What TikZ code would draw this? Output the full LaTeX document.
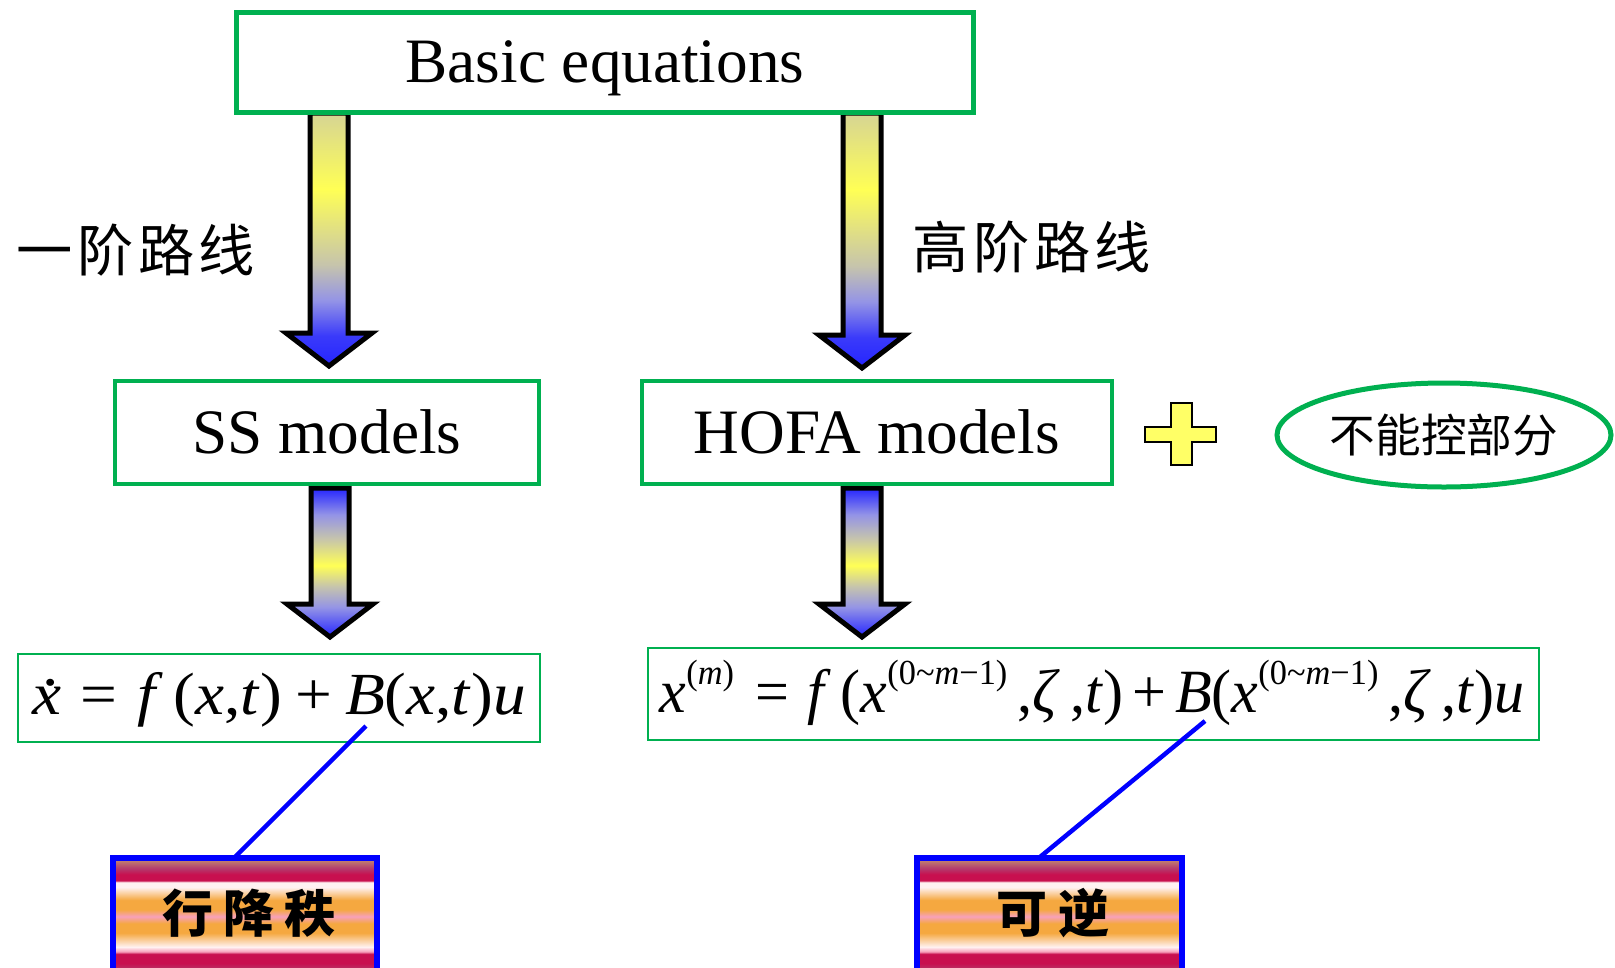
\documentclass[tikz,border=0pt]{standalone}
\usepackage{fontspec}
\usepackage{graphicx}
\setmainfont{Liberation Serif}
\newfontfamily\cjk{Noto Sans CJK SC}
\newfontfamily\cjkwide[LetterSpace=8]{Noto Sans CJK SC}
\newfontfamily\cjkbox[LetterSpace=20]{Noto Sans CJK SC}
\usetikzlibrary{shapes.geometric}
\newdimen\pxu \pxu=0.02cm
\definecolor{bgreen}{HTML}{00B050}
\definecolor{ablue}{HTML}{2424FF}
\definecolor{alav}{HTML}{9494E6}
\definecolor{agray}{HTML}{C6C4AC}
\definecolor{ayel}{HTML}{FFFF55}
\definecolor{atop}{HTML}{D6D494}
\definecolor{pyel}{HTML}{FFFF66}
\definecolor{sbrown}{HTML}{C08070}
\definecolor{smauve}{HTML}{B43A6C}
\definecolor{scrim}{HTML}{C8104F}
\definecolor{swhite}{HTML}{FFF2F2}
\definecolor{sorange}{HTML}{F5A840}
\definecolor{spink}{HTML}{F7A0BA}
\pgfdeclareverticalshading{toparrow}{100bp}{color(0bp)=(ablue); color(25bp)=(ablue); color(31bp)=(ablue!80!alav); color(38bp)=(alav); color(45bp)=(agray); color(60bp)=(ayel); color(75bp)=(atop); color(100bp)=(atop)}
\pgfdeclareverticalshading{lowarrow}{100bp}{color(0bp)=(ablue); color(25bp)=(ablue); color(35bp)=(alav); color(42bp)=(agray); color(49bp)=(ayel); color(58bp)=(agray); color(66bp)=(alav); color(75bp)=(ablue); color(100bp)=(ablue)}
\pgfdeclareverticalshading{stripes}{100bp}{color(0bp)=(sbrown); color(25bp)=(sbrown); color(27bp)=(smauve); color(30bp)=(scrim); color(34bp)=(scrim); color(35bp)=(spink); color(37bp)=(swhite); color(43bp)=(sorange); color(47bp)=(sorange); color(50bp)=(spink); color(53bp)=(sorange); color(57bp)=(sorange); color(62.5bp)=(swhite); color(64.6bp)=(swhite); color(65.4bp)=(scrim); color(68bp)=(scrim); color(70.5bp)=(smauve); color(74bp)=(sbrown); color(100bp)=(sbrown)}
\newcommand\fatarrow[7]{%
  \shadedraw[shading=#7, draw=black, line width=5\pxu, miter limit=10]
    ({#1-#5},#2) -- ({#1+#5},#2) -- ({#1+#5},#3) -- ({#1+#6},#3) -- (#1,#4)
    -- ({#1-#6},#3) -- ({#1-#5},#3) -- cycle;}
\newcommand\I[1]{\textit{#1}}
\newcommand\xd{\ooalign{\I{x}\cr\hidewidth\kern0.12em\raisebox{0.48em}{.}\hidewidth\cr}}
\newcommand\supx[1]{\raisebox{0.45em}{\fontsize{20pt}{20pt}\selectfont #1}}
\begin{document}
\begin{tikzpicture}[x=0.02cm,y=-0.02cm,
  gbox/.style={draw=bgreen, fill=white, line width=5\pxu, inner sep=0pt},
  gtext/.style={inner sep=0pt, anchor=base, font=\fontsize{36pt}{40pt}\selectfont},
  eqbox/.style={draw=bgreen, fill=white, line width=2\pxu, inner sep=0pt},
  rankbox/.style={shading=stripes, draw=blue, line width=6\pxu, inner sep=0pt},
  blueline/.style={draw=blue, line width=4.5\pxu},
  route/.style={font=\cjkwide\fontsize{32pt}{36pt}\selectfont, inner sep=0pt},
  boxlabel/.style={font=\cjkbox\bfseries\fontsize{29pt}{32pt}\selectfont, inner sep=0pt}]
\clip (0,0) rectangle (1615,967);
\fill[white] (0,0) rectangle (1615,967);
% arrows
\fatarrow{329}{113}{333}{366}{19}{43}{toparrow}
\fatarrow{862}{113}{335}{368}{19}{43}{toparrow}
\fatarrow{330}{488}{604}{637}{19}{43}{lowarrow}
\fatarrow{862}{488}{604}{637}{19}{43}{lowarrow}
% boxes
\node[gbox, minimum width=737\pxu, minimum height=100\pxu] (basic) at (605,62.5) {};
\node[gtext] (basict) at (605,82) {Basic equations};
\node[gbox, line width=4.5\pxu, minimum width=424\pxu, minimum height=103\pxu] (ss) at (327,432.5) {};
\node[gtext] (sst) at (327,453) {SS models};
\node[gbox, line width=4.5\pxu, minimum width=470\pxu, minimum height=103\pxu] (hofa) at (877,432.5) {};
\node[gtext] (hofat) at (877,453) {HOFA models};
% labels on arrows
\node[route] (first) at (136,250) {一阶路线};
\node[route] (high) at (1032,247) {高阶路线};
% plus sign
\filldraw[fill=pyel, draw=black, line width=2\pxu]
  (1171,403) -- (1192,403) -- (1192,427) -- (1216,427) -- (1216,442) -- (1192,442)
  -- (1192,465) -- (1171,465) -- (1171,442) -- (1145,442) -- (1145,427) -- (1171,427) -- cycle;
\node[ellipse, draw=bgreen, line width=5\pxu, inner sep=0pt, minimum width=334\pxu, minimum height=104\pxu,
  font=\cjk\fontsize{26pt}{30pt}\selectfont] (uncont) at (1444,435) {不能控部分};
% equations
\node[eqbox, minimum width=522\pxu, minimum height=88\pxu] (eqss) at (279,698) {};
\node[inner sep=0pt, anchor=base] (eqsst) at (279,714) {\resizebox{281pt}{\height}{\fontsize{34pt}{38pt}\selectfont
  \xd\hspace{0.3em}=\hspace{0.3em}\I{f}\,(\I{x},\I{t})\hspace{0.2em}+\hspace{0.2em}\I{B}(\I{x},\I{t})\I{u}}};
\node[eqbox, minimum width=891\pxu, minimum height=92\pxu] (eqho) at (1093.5,693.5) {};
\node[inner sep=0pt, anchor=base] (eqhot) at (1092,712) {\resizebox{492pt}{\height}{\fontsize{35pt}{40pt}\selectfont
  \I{x}\supx{(\I{m})}\hspace{0.35em}=\hspace{0.3em}\I{f}\,(\I{x}\supx{(0\textasciitilde\I{m}−1)}\,,\I{ζ}\,,\I{t})\hspace{0.15em}+\hspace{0.15em}\I{B}(\I{x}\supx{(0\textasciitilde\I{m}−1)}\,,\I{ζ}\,,\I{t})\I{u}}};
% bottom boxes
\node[rankbox, minimum width=264\pxu, minimum height=117\pxu] (rankred) at (245,916.5) {};
\node[boxlabel] (rankredt) at (249,913) {行降秩};
\node[rankbox, minimum width=265\pxu, minimum height=117\pxu] (invert) at (1049.5,916.5) {};
\node[boxlabel] (invertt) at (1053,913) {可逆};
% connectors
\coordinate (bs) at (366,726);
\coordinate (be) at (235,857);
\coordinate (hs) at (1205,721);
\coordinate (he) at (1040,857);
\draw[blueline] (bs) -- (be);
\draw[blueline] (hs) -- (he);
\end{tikzpicture}
\end{document}
